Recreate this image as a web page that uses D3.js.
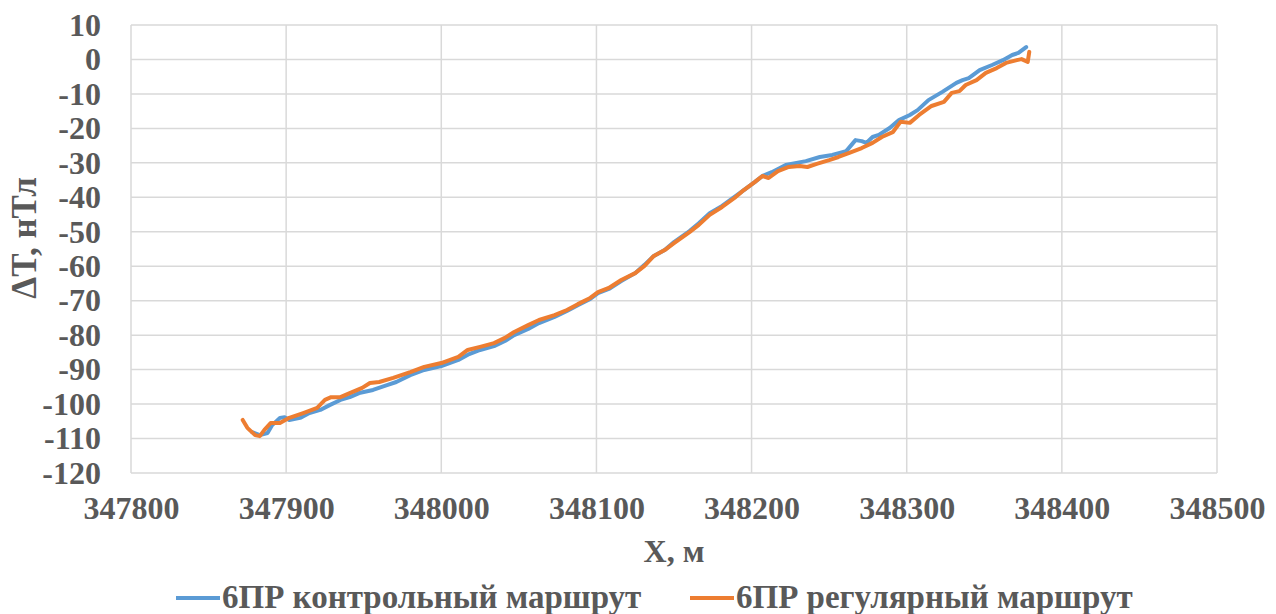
<!DOCTYPE html>
<html>
<head>
<meta charset="utf-8">
<script src="https://cdn.jsdelivr.net/npm/d3@7"></script>
<style>
  body { margin: 0; background: #fff; }
  text { font-family: "Liberation Serif", "Times New Roman", serif; font-weight: bold; fill: #595959; }
</style>
</head>
<body>
<div id="chart"></div>
<script>
// 6ПР контрольный маршрут
var controlX = [347878, 347883, 347888, 347891, 347896, 347899, 347902, 347909, 347915, 347922,
  347928, 347935, 347941, 347947, 347956, 347965, 347971, 347980, 347989, 348000,
  348011, 348018, 348025, 348034, 348041, 348047, 348056, 348063, 348073, 348081,
  348088, 348096, 348101, 348108, 348116, 348125, 348131, 348137, 348144, 348150,
  348160, 348166, 348173, 348181, 348189, 348195, 348202, 348207, 348213, 348222,
  348235, 348244, 348252, 348261, 348267, 348271, 348274, 348278, 348282, 348289,
  348295, 348302, 348307, 348314, 348323, 348332, 348336, 348340, 348347, 348355,
  348362, 348368, 348372, 348377];
var controlT = [-108.1, -109, -108.4, -106.1, -104, -103.8, -104.6, -104, -102.6, -101.7,
  -100.3, -98.8, -98, -96.8, -95.9, -94.5, -93.6, -91.6, -90.1, -89,
  -87.2, -85.5, -84.3, -83.2, -81.7, -80, -78.2, -76.5, -74.7, -73,
  -71.3, -69.5, -67.8, -66.6, -64.3, -62, -59.6, -57, -55.3, -53,
  -49.8, -47.5, -44.6, -42.5, -39.9, -37.9, -35.6, -33.8, -32.7, -30.6,
  -29.5, -28.3, -27.7, -26.6, -23.4, -23.7, -24.2, -22.5, -21.9, -19.9,
  -17.6, -16.1, -14.7, -11.8, -9.4, -6.8, -6, -5.4, -3.1, -1.6,
  -0.2, 1.3, 1.9, 3.6];

// 6ПР регулярный маршрут
var regularX = [347872, 347875, 347880, 347883, 347886, 347890, 347896, 347902, 347911, 347920,
  347925, 347929, 347935, 347941, 347949, 347954, 347960, 347969, 347980, 347989,
  348000, 348011, 348017, 348025, 348034, 348041, 348047, 348056, 348063, 348073,
  348081, 348088, 348096, 348101, 348108, 348116, 348125, 348131, 348137, 348144,
  348150, 348160, 348166, 348173, 348181, 348189, 348195, 348202, 348207, 348211,
  348217, 348224, 348231, 348236, 348242, 348250, 348256, 348263, 348271, 348278,
  348284, 348291, 348296, 348302, 348308, 348316, 348324, 348329, 348334, 348338,
  348345, 348351, 348358, 348364, 348371, 348374, 348378, 348379];
var regularT = [-104.6, -106.9, -109, -109.3, -107.5, -105.5, -105.5, -104, -102.6, -101.1,
  -98.8, -98, -98, -96.8, -95.3, -93.9, -93.6, -92.4, -90.7, -89.2,
  -88.1, -86.3, -84.3, -83.4, -82.3, -80.8, -79.1, -77.1, -75.6, -74.2,
  -72.7, -71, -69.2, -67.5, -66.3, -64, -62, -59.9, -57, -55.3,
  -53.3, -50.1, -48, -45.1, -42.8, -40.2, -37.9, -35.6, -33.8, -34.4,
  -32.4, -31.2, -30.9, -31.2, -30.3, -29.2, -28.3, -27.1, -25.7, -24.2,
  -22.5, -21.1, -18.1, -18.4, -16.1, -13.5, -12.3, -9.7, -9.2, -7.4,
  -6, -3.9, -2.5, -1, -0.2, 0.1, -0.7, 2.2];

var xTicks = [347800, 347900, 348000, 348100, 348200, 348300, 348400, 348500];
var yTicks = [10, 0, -10, -20, -30, -40, -50, -60, -70, -80, -90, -100, -110, -120];

var seriesNames = ["6ПР контрольный маршрут", "6ПР регулярный маршрут"];
var seriesColors = ["#5b9bd5", "#ed7d31"];

var width = 1276, height = 614;
var margin = {top: 25, right: 59, bottom: 141, left: 131};

var svg = d3.select("#chart").append("svg")
  .attr("width", width)
  .attr("height", height);

var x = d3.scaleLinear()
  .domain([347800, 348500])
  .range([margin.left, width - margin.right]);

var y = d3.scaleLinear()
  .domain([-120, 10])
  .range([height - margin.bottom, margin.top]);

// grid
var grid = svg.append("g").attr("class", "grid");
grid.selectAll("line.h")
  .data(yTicks)
  .enter().append("line")
  .attr("class", "h")
  .attr("x1", x.range()[0]).attr("x2", x.range()[1])
  .attr("y1", function (d) { return y(d); })
  .attr("y2", function (d) { return y(d); })
  .attr("stroke", "#d9d9d9")
  .attr("stroke-width", 1.5);

grid.selectAll("line.v")
  .data(xTicks)
  .enter().append("line")
  .attr("class", "v")
  .attr("y1", y.range()[0]).attr("y2", y.range()[1])
  .attr("x1", function (d) { return x(d); })
  .attr("x2", function (d) { return x(d); })
  .attr("stroke", "#d9d9d9")
  .attr("stroke-width", 1.5);

// axes (labels only, Excel style)
var xAxis = svg.append("g")
  .attr("transform", "translate(0," + y(-120) + ")")
  .call(d3.axisBottom(x).tickValues(xTicks).tickSize(0).tickPadding(23).tickFormat(d3.format("d")));
xAxis.select(".domain").remove();
xAxis.selectAll("text").attr("font-size", 32).attr("font-family", null);

var yAxis = svg.append("g")
  .attr("transform", "translate(" + x(347800) + ",0)")
  .call(d3.axisLeft(y).tickValues(yTicks).tickSize(0).tickPadding(30).tickFormat(d3.format("d")));
yAxis.select(".domain").remove();
yAxis.selectAll("text").attr("font-size", 32).attr("font-family", null).text(function (d) { return String(d); });
svg.selectAll(".tick text").attr("fill", "#595959");

// lines
var line = d3.line()
  .x(function (d) { return x(d[0]); })
  .y(function (d) { return y(d[1]); });

var controlData = d3.zip(controlX, controlT);
var regularData = d3.zip(regularX, regularT);

svg.append("path")
  .datum(controlData)
  .attr("d", line)
  .attr("fill", "none")
  .attr("stroke", seriesColors[0])
  .attr("stroke-width", 4)
  .attr("stroke-linejoin", "round")
  .attr("stroke-linecap", "round");

svg.append("path")
  .datum(regularData)
  .attr("d", line)
  .attr("fill", "none")
  .attr("stroke", seriesColors[1])
  .attr("stroke-width", 4)
  .attr("stroke-linejoin", "round")
  .attr("stroke-linecap", "round");

// axis titles
svg.append("text")
  .attr("x", (x.range()[0] + x.range()[1]) / 2)
  .attr("y", 562)
  .attr("text-anchor", "middle")
  .attr("font-size", 32)
  .text("X, м");

svg.append("text")
  .attr("transform", "translate(36,238) rotate(-90)")
  .attr("text-anchor", "middle")
  .attr("font-size", 35)
  .text("ΔT, нТл");

// legend
var legendX = [176, 690];
var legend = svg.selectAll("g.legend")
  .data(seriesNames)
  .enter().append("g")
  .attr("class", "legend")
  .attr("transform", function (d, i) { return "translate(" + legendX[i] + ",598)"; });

legend.append("line")
  .attr("x1", 0).attr("x2", 44)
  .attr("y1", 0).attr("y2", 0)
  .attr("stroke", function (d, i) { return seriesColors[i]; })
  .attr("stroke-width", 4);

legend.append("text")
  .attr("x", 46)
  .attr("y", 10)
  .attr("font-size", 33)
  .text(function (d) { return d; });
</script>
</body>
</html>
